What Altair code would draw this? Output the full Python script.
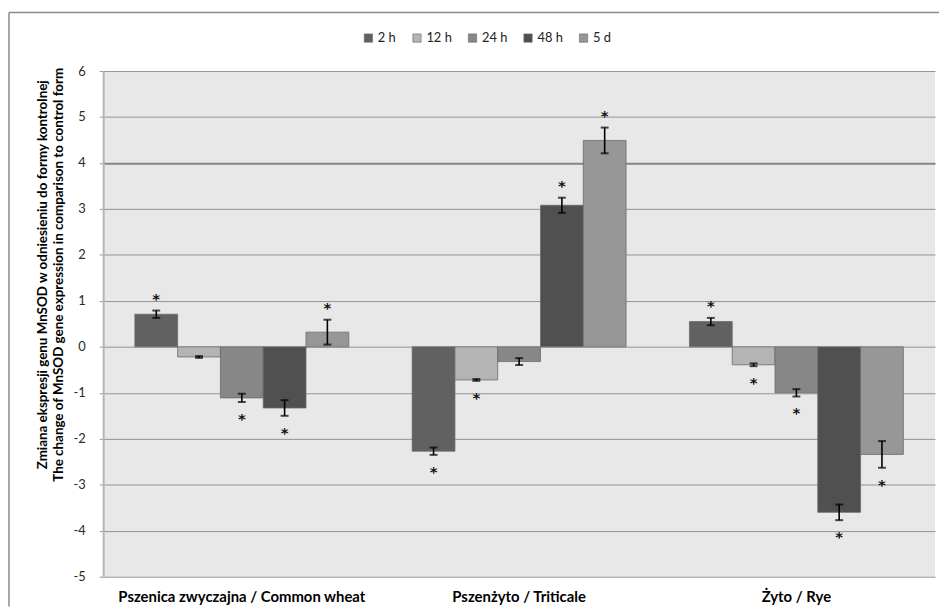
import altair as alt
import pandas as pd

groups = ["Pszenica zwyczajna / Common wheat", "Pszenżyto / Triticale", "Żyto / Rye"]
series = ["2 h", "12 h", "24 h", "48 h", "5 d"]
colors = ["#616161", "#b4b4b4", "#878787", "#505050", "#979797"]

wheat = [0.71, -0.22, -1.11, -1.33, 0.32]
wheat_err = [0.08, 0.02, 0.09, 0.17, 0.27]
wheat_star = [1, 0, 1, 1, 1]

triticale = [-2.27, -0.72, -0.32, 3.08, 4.49]
triticale_err = [0.08, 0.02, 0.075, 0.165, 0.28]
triticale_star = [1, 1, 0, 1, 1]

rye = [0.55, -0.39, -1.00, -3.60, -2.34]
rye_err = [0.08, 0.03, 0.08, 0.17, 0.29]
rye_star = [1, 1, 1, 1, 1]

y_ticks = list(range(-5, 7))

rows = []
for g, vals, errs, stars in zip(groups, [wheat, triticale, rye],
                                [wheat_err, triticale_err, rye_err],
                                [wheat_star, triticale_star, rye_star]):
    for s, v, e, st in zip(series, vals, errs, stars):
        rows.append(dict(group=g, series=s, value=v, lo=v - e, hi=v + e,
                         star=st, pos=1 if v > 0 else 0,
                         star_y=(v + e) if v > 0 else (v - e)))
df = pd.DataFrame(rows)

FONT = "Lato"

x = alt.X("group:N", sort=groups, title=None,
          scale=alt.Scale(paddingInner=0.2286, paddingOuter=0.1143),
          axis=alt.Axis(labelAngle=0, labelFontWeight="bold", labelFontSize=15,
                        labelPadding=13, domain=False, ticks=False, labelLimit=0,
                        labelColor="#000000", labelFont=FONT))
xo = alt.XOffset("series:N", sort=series, scale=alt.Scale(paddingInner=0, paddingOuter=0))
yscale = alt.Scale(domain=[-5, 6], nice=False)

base = alt.Chart(df)

bars = base.mark_bar(stroke="#6a6a6a", strokeWidth=0.8).encode(
    x=x, xOffset=xo,
    y=alt.Y("value:Q", scale=yscale,
            title=["Zmiana ekspresji genu MnSOD w odniesieniu do formy kontrolnej",
                   "The change of MnSOD gene expression in comparison to control form"],
            axis=alt.Axis(values=y_ticks, labelExpr="'' + datum.value",
                          labelFontSize=13, labelPadding=14, labelColor="#2a2a2a",
                          labelFont=FONT,
                          tickSize=4, tickColor="#999999",
                          domainColor="#b4b4b4", domainWidth=2,
                          gridColor={"condition": {"test": "datum.value === 4", "value": "#858585"}, "value": "#939393"},
                          gridWidth={"condition": {"test": "datum.value === 4", "value": 2}, "value": 1},
                          titleFont=FONT, titleFontSize=13.5, titleFontWeight="bold",
                          titleColor="#000000", titleLineHeight=15.5,
                          titleX=-68, titleY=205, titleAngle=-90,
                          titleAlign="center", titleBaseline="top")),
    color=alt.Color("series:N", sort=series,
                    scale=alt.Scale(domain=series, range=colors),
                    legend=alt.Legend(title=None, orient="none", legendX=261, legendY=-40,
                                      direction="horizontal", symbolType="square",
                                      symbolSize=70, symbolStrokeWidth=0.6,
                                      symbolStrokeColor="#666666",
                                      labelFontSize=13, labelFont=FONT,
                                      labelColor="#222222", labelOffset=3,
                                      columnPadding=14)),
)

err_rule = base.mark_rule(color="black", strokeWidth=1.6).encode(
    x=x, xOffset=xo, y="lo:Q", y2="hi:Q")
cap_lo = base.mark_tick(color="black", size=8, thickness=2).encode(
    x=x, xOffset=xo, y="lo:Q")
cap_hi = base.mark_tick(color="black", size=8, thickness=2).encode(
    x=x, xOffset=xo, y="hi:Q")

STAR_FONT = "DejaVu Sans"
stars_pos = base.transform_filter("datum.star == 1 && datum.pos == 1").mark_text(
    text="*", fontSize=15, fontWeight="bold", color="#111111", dy=-12,
    baseline="middle", font=STAR_FONT).encode(x=x, xOffset=xo, y="star_y:Q")
stars_neg = base.transform_filter("datum.star == 1 && datum.pos == 0").mark_text(
    text="*", fontSize=15, fontWeight="bold", color="#111111", dy=17,
    baseline="middle", font=STAR_FONT).encode(x=x, xOffset=xo, y="star_y:Q")

frame_data = alt.Data(values=[{"k": 1}])
frame_left = alt.Chart(frame_data).mark_rule(color="#8a8a8a", strokeWidth=1.5).encode(
    x=alt.value(-95), y=alt.value(-59), y2=alt.value(540))
frame_top = alt.Chart(frame_data).mark_rule(color="#8a8a8a", strokeWidth=1.5).encode(
    x=alt.value(-95), x2=alt.value(843), y=alt.value(-59))

chart = alt.layer(frame_left, frame_top, bars, err_rule, cap_lo, cap_hi, stars_pos, stars_neg).properties(
    width=839, height=510,
    autosize=alt.AutoSizeParams(type="none"),
    padding={"left": 96, "top": 61, "right": 4, "bottom": 30},
    background="#ffffff",
).configure_view(fill="#e8e8e8", stroke=None)

chart.save("out.html", embed_options={"renderer": "svg", "actions": False})
